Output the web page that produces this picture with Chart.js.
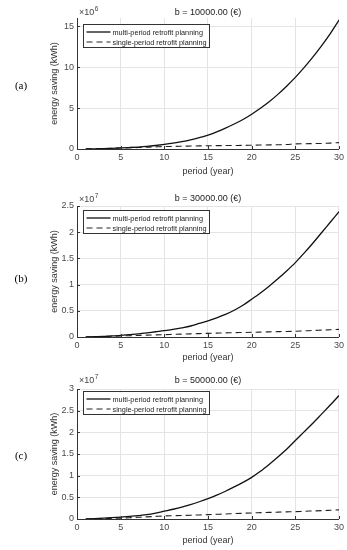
<!DOCTYPE html>
<html><head><meta charset="utf-8">
<script src="https://cdn.jsdelivr.net/npm/chart.js@4.4.1/dist/chart.umd.min.js"></script>
<style>
html,body{margin:0;padding:0;background:#fff;}
body{width:347px;height:550px;position:relative;overflow:hidden;}
canvas{position:absolute;left:0;}
</style></head><body>
<canvas id="ca"></canvas><canvas id="cb"></canvas><canvas id="cc"></canvas>
<script>
// ---------- DATA ----------
const years = [1,2,3,4,5,6,7,8,9,10,11,12,13,14,15,16,17,18,19,20,21,22,23,24,25,26,27,28,29,30];
const xTicks = [0,5,10,15,20,25,30];
const seriesNames = ['multi-period retrofit planning','single-period retrofit planning'];
const budgetTitles = ['b = 10000.00 (\u20AC)','b = 30000.00 (\u20AC)','b = 50000.00 (\u20AC)'];
const panelLabels = ['(a)','(b)','(c)'];
const exponents = [6,7,7];
const yTicksA = [0,5,10,15];
const yTicksB = [0,0.5,1,1.5,2,2.5];
const yTicksC = [0,0.5,1,1.5,2,2.5,3];
const yMaxes = [16,2.5,3];
// panel (a), values x10^6 kWh
const multiA  = [0.0,0.02,0.05,0.085,0.13,0.18,0.24,0.32,0.43,0.56,0.71,0.89,1.11,1.38,1.70,2.10,2.55,3.05,3.60,4.25,4.97,5.77,6.67,7.67,8.75,9.93,11.21,12.59,14.09,15.75];
const singleA = [0.0,0.03,0.06,0.09,0.12,0.15,0.18,0.22,0.26,0.30,0.32,0.34,0.36,0.38,0.40,0.41,0.42,0.43,0.44,0.46,0.48,0.50,0.52,0.55,0.62,0.64,0.66,0.68,0.72,0.78];
// panel (b), values x10^7 kWh
const multiB  = [0.0,0.005,0.01,0.02,0.03,0.045,0.06,0.08,0.10,0.12,0.145,0.175,0.21,0.26,0.31,0.365,0.43,0.51,0.605,0.72,0.84,0.97,1.11,1.26,1.42,1.60,1.79,1.99,2.19,2.39];
const singleB = [0.0,0.005,0.01,0.015,0.02,0.025,0.03,0.035,0.04,0.045,0.05,0.055,0.06,0.065,0.07,0.074,0.078,0.082,0.086,0.09,0.094,0.098,0.102,0.106,0.11,0.117,0.124,0.131,0.138,0.145];
// panel (c), values x10^7 kWh
const multiC  = [0.0,0.008,0.018,0.03,0.045,0.062,0.08,0.10,0.135,0.18,0.225,0.275,0.333,0.398,0.47,0.55,0.64,0.74,0.845,0.96,1.10,1.26,1.43,1.61,1.81,2.01,2.21,2.42,2.63,2.85];
const singleC = [0.0,0.005,0.01,0.015,0.02,0.03,0.04,0.05,0.06,0.07,0.076,0.082,0.088,0.094,0.10,0.108,0.116,0.124,0.132,0.14,0.146,0.152,0.158,0.164,0.17,0.178,0.186,0.194,0.202,0.21];

// ---------- LAYOUT (page px) ----------
const FONT = '"Liberation Sans", Arial, Helvetica, sans-serif';
Chart.defaults.font.family = FONT;
const panels = [
  {id:'ca', multi:multiA, single:singleA, yTicks:yTicksA, k:0, top:0,   height:177, areaTop:18,  areaBottom:149, titleY:12.5, expY:13,  labelY:86,  legendTop:24},
  {id:'cb', multi:multiB, single:singleB, yTicks:yTicksB, k:1, top:185, height:178, areaTop:206, areaBottom:337, titleY:199, expY:200, labelY:279, legendTop:210},
  {id:'cc', multi:multiC, single:singleC, yTicks:yTicksC, k:2, top:367, height:179, areaTop:389, areaBottom:519, titleY:381, expY:381, labelY:456, legendTop:391}
];
const W = 347, AREA_LEFT = 77, AREA_RIGHT = 341, PAD_LEFT = 49;

function decorPlugin(p) {
  return {
    id: 'decor',
    afterDraw(chart) {
      const ctx = chart.ctx, a = chart.chartArea, off = p.top;
      const xs = chart.scales.x, ys = chart.scales.y;
      ctx.save();
      // inward ticks
      ctx.strokeStyle = '#333'; ctx.lineWidth = 1;
      ctx.beginPath();
      xs.ticks.forEach(t => { const px = Math.round(xs.getPixelForValue(t.value)) + 0.5; ctx.moveTo(px, a.bottom); ctx.lineTo(px, a.bottom - 3); });
      ys.ticks.forEach(t => { const py = Math.round(ys.getPixelForValue(t.value)) + 0.5; ctx.moveTo(a.left, py); ctx.lineTo(a.left + 3, py); });
      ctx.stroke();
      // title
      ctx.fillStyle = '#222';
      ctx.font = '9px ' + FONT;
      ctx.textAlign = 'center'; ctx.textBaseline = 'middle';
      ctx.fillText(budgetTitles[p.k], (a.left + a.right) / 2, p.titleY - off);
      // exponent
      ctx.fillStyle = '#444';
      ctx.textAlign = 'left';
      ctx.font = '9px ' + FONT;
      ctx.fillText('\u00D710', a.left + 2, p.expY - off);
      const w = ctx.measureText('\u00D710').width;
      ctx.font = '6.5px ' + FONT;
      ctx.fillText(String(exponents[p.k]), a.left + 2 + w + 0.5, p.expY - off - 3.5);
      // panel label
      ctx.fillStyle = '#000';
      ctx.font = '11px "Liberation Serif", "Times New Roman", serif';
      ctx.textAlign = 'center';
      ctx.fillText(panelLabels[p.k], 21, p.labelY - off);
      // legend
      const lx = 83.5, ly = Math.round(p.legendTop - off) + 0.5, lw = 126, lh = 23;
      ctx.fillStyle = '#fff';
      ctx.fillRect(lx, ly, lw, lh);
      ctx.strokeStyle = '#333'; ctx.lineWidth = 1;
      ctx.strokeRect(lx, ly, lw, lh);
      ctx.font = '7.3px ' + FONT;
      ctx.textAlign = 'left';
      chart.data.datasets.forEach((ds, i) => {
        const cy = ly + 7.5 + i * 10;
        ctx.strokeStyle = ds.borderColor;
        ctx.lineWidth = ds.borderWidth;
        ctx.setLineDash(ds.borderDash || []);
        ctx.beginPath(); ctx.moveTo(86.5, cy); ctx.lineTo(110.5, cy); ctx.stroke();
        ctx.setLineDash([]);
        ctx.fillStyle = '#222';
        ctx.fillText(ds.label, 112.5, cy + 0.5);
      });
      ctx.restore();
    }
  };
}

panels.forEach(p => {
  const cv = document.getElementById(p.id);
  cv.width = W; cv.height = p.height;
  cv.style.width = W + 'px'; cv.style.height = p.height + 'px';
  cv.style.top = p.top + 'px';
  const xAxisH = p.top + p.height - p.areaBottom;
  new Chart(cv, {
    type: 'line',
    data: {
      datasets: [
        {label: seriesNames[0], data: years.map((x, i) => ({x, y: p.multi[i]})), borderColor: '#111', borderWidth: 1.3, pointRadius: 0, fill: false, cubicInterpolationMode: 'monotone'},
        {label: seriesNames[1], data: years.map((x, i) => ({x, y: p.single[i]})), borderColor: '#222', borderWidth: 1.1, borderDash: [6, 4], pointRadius: 0, fill: false, cubicInterpolationMode: 'monotone'}
      ]
    },
    options: {
      responsive: false, animation: false, devicePixelRatio: 1,
      layout: {padding: {left: PAD_LEFT, right: W - AREA_RIGHT, top: p.areaTop - p.top, bottom: 0}},
      plugins: {legend: {display: false}, title: {display: false}, tooltip: {enabled: false}},
      scales: {
        x: {
          type: 'linear', min: 0, max: 30,
          afterBuildTicks: s => { s.ticks = xTicks.map(v => ({value: v})); },
          afterFit: s => { s.height = xAxisH; },
          grid: {color: '#e4e4e4', lineWidth: 1, drawTicks: false},
          border: {display: true, color: '#333', width: 1},
          ticks: {padding: 3, color: '#4a4a4a', font: {size: 9}, maxRotation: 0, callback: v => String(v)},
          title: {display: true, text: 'period (year)', color: '#333', font: {size: 9}, padding: 0}
        },
        y: {
          type: 'linear', min: 0, max: yMaxes[p.k],
          afterBuildTicks: s => { s.ticks = p.yTicks.map(v => ({value: v})); },
          afterFit: s => { s.width = AREA_LEFT - PAD_LEFT; },
          grid: {color: '#e4e4e4', lineWidth: 1, drawTicks: false},
          border: {display: true, color: '#333', width: 1},
          ticks: {padding: 3, color: '#4a4a4a', font: {size: 9}, callback: v => String(v)},
          title: {display: true, text: 'energy saving (kWh)', color: '#333', font: {size: 9}, padding: 0}
        }
      }
    },
    plugins: [decorPlugin(p)]
  });
});
</script>
</body></html>
